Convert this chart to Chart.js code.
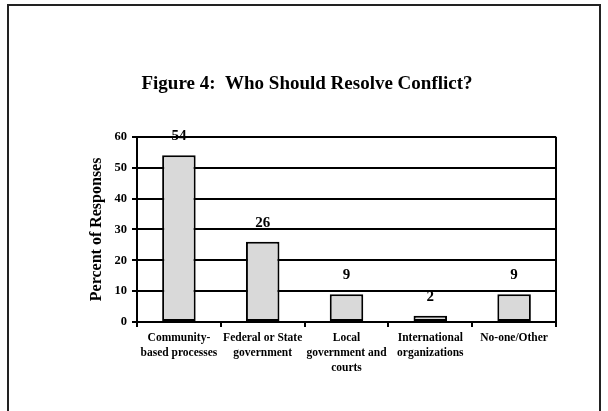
<!DOCTYPE html>
<html>
<head>
<meta charset="utf-8">
<script src="https://cdn.jsdelivr.net/npm/chart.js@4.4.0/dist/chart.umd.min.js"></script>
<style>
  body { margin: 0; background: #fff; }
  #wrap { width: 608px; height: 411px; }
</style>
</head>
<body>
<div id="wrap"><canvas id="barChart" width="608" height="411"></canvas></div>
<script>
var categorias = [
    ["Community-", "based processes"],
    ["Federal or State", "government"],
    ["Local", "government and", "courts"],
    ["International", "organizations"],
    ["No-one/Other"]
];
var porcentajes = [54, 26, 9, 2, 9];
var tituloGrafico = "Figure 4:  Who Should Resolve Conflict?";
var tituloEjeY = "Percent of Responses";

var fuente = "'Liberation Serif', 'Times New Roman', serif";

// marco exterior y caja del area de datos
var marcoPlugin = {
    id: "marco",
    beforeDraw: function (chart) {
        let ctx = chart.ctx;
        ctx.save();
        ctx.fillStyle = "#fff";
        ctx.fillRect(0, 0, chart.width, chart.height);
        ctx.strokeStyle = "#222";
        ctx.lineWidth = 2;
        ctx.strokeRect(8, 5, 592, 430);
        ctx.restore();
    },
    afterDatasetsDraw: function (chart) {
        let ctx = chart.ctx;
        let area = chart.chartArea;
        ctx.save();
        ctx.strokeStyle = "#000";
        ctx.lineWidth = 2;
        ctx.beginPath();
        ctx.moveTo(area.right, area.top);
        ctx.lineTo(area.right, area.bottom);
        ctx.stroke();
        // etiquetas de valor sobre las barras
        ctx.fillStyle = "#000";
        ctx.font = "bold 15px " + fuente;
        ctx.textAlign = "center";
        ctx.textBaseline = "middle";
        let meta = chart.getDatasetMeta(0);
        meta.data.forEach(function (bar, i) {
            ctx.fillText(String(porcentajes[i]), bar.x, bar.y - 19);
        });
        ctx.restore();
    }
};

let ctx = document.getElementById("barChart").getContext("2d");
let barChart = new Chart(ctx, {
    type: "bar",
    data: {
        labels: categorias,
        datasets: [{
            data: porcentajes,
            backgroundColor: "#d9d9d9",
            borderColor: "#000",
            borderWidth: 2,
            borderSkipped: false,
            categoryPercentage: 1,
            barPercentage: 0.4
        }]
    },
    options: {
        responsive: false,
        animation: false,
        layout: {
            padding: { left: 58, right: 52, top: 60, bottom: 20 }
        },
        plugins: {
            legend: { display: false },
            tooltip: { enabled: false },
            title: {
                display: true,
                text: tituloGrafico,
                color: "#000",
                font: { family: fuente, size: 19, weight: "bold", lineHeight: 1.2 },
                padding: { top: 13, bottom: 41 }
            }
        },
        scales: {
            x: {
                grid: {
                    display: true,
                    offset: true,
                    drawOnChartArea: false,
                    drawTicks: true,
                    tickLength: 5,
                    color: "#000",
                    lineWidth: 2
                },
                border: { display: true, color: "#000", width: 2 },
                ticks: {
                    color: "#000",
                    font: { family: fuente, size: 11.5, weight: "bold", lineHeight: 1.3 },
                    maxRotation: 0,
                    autoSkip: false,
                    padding: 4
                },
                afterFit: function (scale) { scale.height = 69; }
            },
            y: {
                min: 0,
                max: 60,
                ticks: {
                    stepSize: 10,
                    color: "#000",
                    font: { family: fuente, size: 12.5, weight: "bold" },
                    padding: 5
                },
                grid: {
                    color: "#000",
                    lineWidth: 2,
                    tickLength: 5
                },
                border: { display: true, color: "#000", width: 2 },
                title: {
                    display: true,
                    text: tituloEjeY,
                    color: "#000",
                    font: { family: fuente, size: 16, weight: "bold" },
                    padding: { top: 29, bottom: 0 }
                },
                afterFit: function (scale) { scale.width = 79; }
            }
        }
    },
    plugins: [marcoPlugin]
});
</script>
</body>
</html>
